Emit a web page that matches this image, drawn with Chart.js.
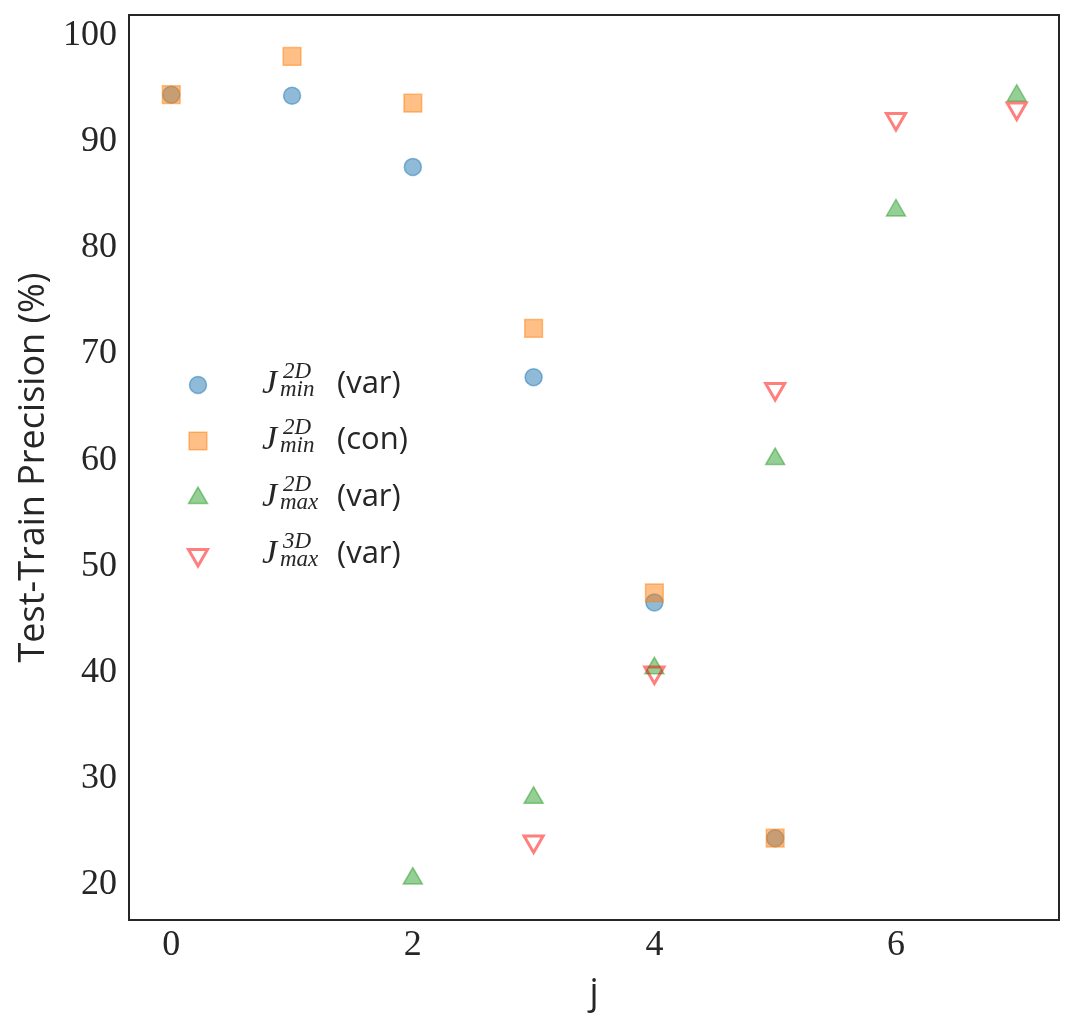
<!DOCTYPE html>
<html><head><meta charset="utf-8">
<script src="https://cdn.jsdelivr.net/npm/chart.js@4.4.1/dist/chart.umd.min.js"></script>
<style>html,body{margin:0;padding:0;background:#fff;overflow:hidden}canvas{display:block}</style>
</head><body>
<canvas id="c" width="1074" height="1025"></canvas>
<script>
// ---- data ----
const jValues = [0, 1, 2, 3, 4, 5, 6, 7];
const jMin2dVar = [94.4, 94.3, 87.6, 67.8, 46.6, 24.4, null, null];
const jMin2dCon = [94.4, 98.0, 93.6, 72.4, 47.5, 24.4, null, null];
const jMax2dVar = [null, null, 20.6, 28.2, 40.4, 60.1, 83.5, 94.3];
const jMax3dVar = [null, null, null, 24.1, 40.0, 66.7, 92.1, 93.1];
const xTicks = [0, 2, 4, 6];
const yTicks = [20, 30, 40, 50, 60, 70, 80, 90, 100];
const legendMain = ['J', 'J', 'J', 'J'];
const legendSup = ['2D', '2D', '2D', '3D'];
const legendSub = ['min', 'min', 'max', 'max'];
const legendTail = ['(var)', '(con)', '(var)', '(var)'];

function pts(arr) {
  return jValues.map((x, i) => ({x: x, y: arr[i]})).filter(p => p.y !== null);
}

const INK = '#262626';
const SERIF = '"Liberation Serif", "DejaVu Serif", serif';
const SANS = '"Open Sans", "DejaVu Sans", sans-serif';

const styles = [
  {fill: 'rgba(31,119,180,0.5)', stroke: 'rgba(31,119,180,0.5)', style: 'circle', r: 8.5, rot: 0, bw: 1.5},
  {fill: 'rgba(255,127,14,0.5)', stroke: 'rgba(255,127,14,0.5)', style: 'rect', r: 12.5, rot: 0, bw: 1.5},
  {fill: 'rgba(44,160,44,0.5)', stroke: 'rgba(44,160,44,0.5)', style: 'triangle', r: 11, rot: 0, bw: 1.5},
  {fill: 'rgba(0,0,0,0)', stroke: 'rgba(255,0,0,0.5)', style: 'triangle', r: 11, rot: 180, bw: 3}
];
const seriesData = [jMin2dVar, jMin2dCon, jMax2dVar, jMax3dVar];

const datasets = seriesData.map((arr, i) => ({
  label: legendMain[i] + legendSup[i] + legendSub[i] + ' ' + legendTail[i],
  data: pts(arr),
  pointStyle: styles[i].style,
  pointRadius: styles[i].r,
  pointRotation: styles[i].rot,
  pointBackgroundColor: styles[i].fill,
  pointBorderColor: styles[i].stroke,
  pointBorderWidth: styles[i].bw,
  showLine: false,
  order: 4 - i
}));

const framePlugin = {
  id: 'frame',
  afterDraw(chart) {
    const {ctx, chartArea: a} = chart;
    ctx.save();
    ctx.strokeStyle = INK;
    ctx.lineWidth = 2;
    ctx.strokeRect(a.left, a.top, a.right - a.left, a.bottom - a.top);
    ctx.restore();
  }
};

const legendPlugin = {
  id: 'mathLegend',
  afterDraw(chart) {
    const {ctx, chartArea: a} = chart;
    const mx = a.left + 69;
    const tx = a.left + 133;
    const rows = [385, 441, 498, 555];
    ctx.save();
    rows.forEach((cy, i) => {
      const s = styles[i];
      ctx.fillStyle = s.fill;
      ctx.strokeStyle = s.stroke;
      ctx.lineWidth = s.bw;
      Chart.helpers.drawPoint(ctx, {pointStyle: s.style, radius: s.r, rotation: s.rot, borderWidth: s.bw}, mx, cy);
      const base = cy + 8;
      ctx.fillStyle = INK;
      ctx.textBaseline = 'alphabetic';
      ctx.textAlign = 'left';
      ctx.font = 'italic 34px ' + SERIF;
      ctx.fillText(legendMain[i], tx, base);
      ctx.font = 'italic 23px ' + SERIF;
      ctx.fillText(legendSup[i], tx + 21, base - 15);
      ctx.fillText(legendSub[i], tx + 18, base + 3);
      ctx.font = '31px ' + SANS;
      ctx.fillText(legendTail[i], tx + 75, base);
    });
    ctx.restore();
  }
};

new Chart(document.getElementById('c'), {
  type: 'scatter',
  data: {datasets},
  plugins: [framePlugin, legendPlugin],
  options: {
    responsive: false,
    devicePixelRatio: 1,
    animation: false,
    layout: {padding: {left: 0, top: 15, right: 15, bottom: 0}},
    plugins: {legend: {display: false}, tooltip: {enabled: false}},
    scales: {
      x: {
        type: 'linear', min: -0.35, max: 7.35,
        grid: {display: false, drawTicks: false},
        border: {display: false},
        afterBuildTicks: s => { s.ticks = xTicks.map(v => ({value: v})); },
        afterFit: s => { s.height = 105; s.paddingLeft = 0; s.paddingRight = 0; },
        ticks: {color: INK, font: {family: SERIF, size: 36}, padding: 4},
        title: {display: true, text: 'j', color: INK, font: {family: SANS, size: 36}, padding: {top: 0, bottom: 10}}
      },
      y: {
        type: 'linear', min: 16.7, max: 101.9,
        grid: {display: false, drawTicks: false},
        border: {display: false},
        afterBuildTicks: s => { s.ticks = yTicks.map(v => ({value: v})); },
        afterFit: s => { s.width = 129; s.paddingTop = 0; s.paddingBottom = 0; },
        ticks: {color: INK, font: {family: SERIF, size: 36}, padding: 12},
        title: {display: true, text: 'Test-Train Precision (%)', color: INK, font: {family: SANS, size: 36}, padding: {top: 12, bottom: 0}}
      }
    }
  }
});
</script>
</body></html>
